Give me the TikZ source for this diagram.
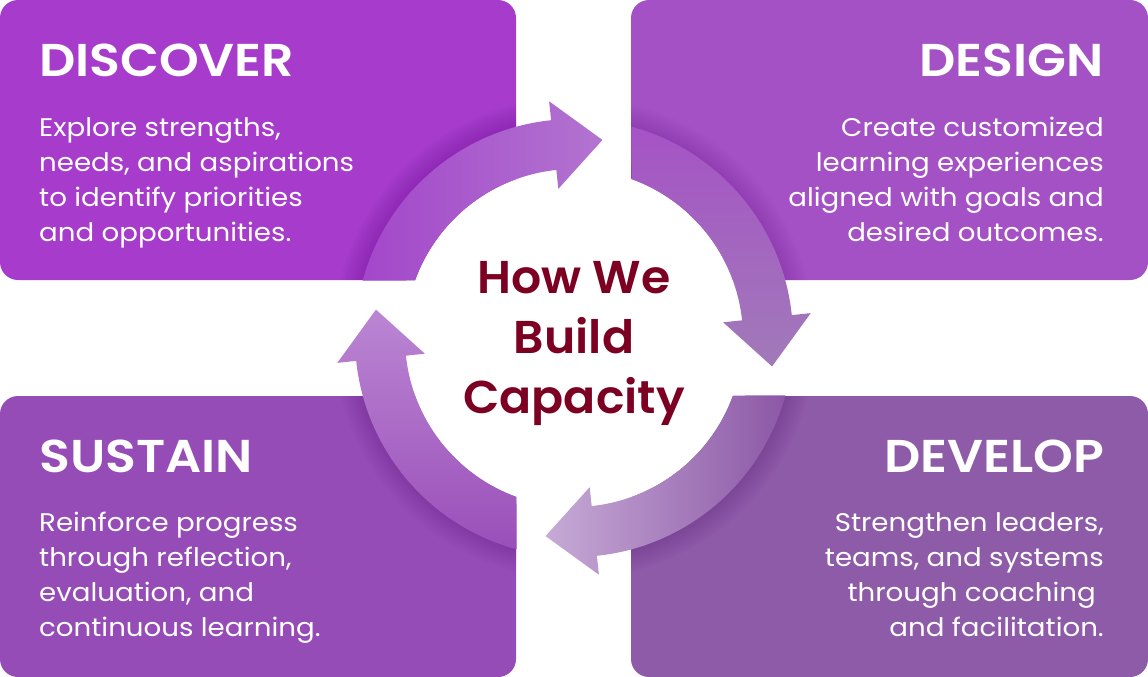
\documentclass[tikz,border=0pt]{standalone}
\usepackage{fontspec}
\setmainfont{Poppins}[BoldFont={Poppins SemiBold}]
\usetikzlibrary{calc}
\definecolor{cDisc}{HTML}{A63BCC}
\definecolor{cDesi}{HTML}{A551C6}
\definecolor{cSust}{HTML}{954CB7}
\definecolor{cDeve}{HTML}{8E5BA8}
\definecolor{aDiscT}{HTML}{A347CA}
\definecolor{aDiscH}{HTML}{B274D0}
\definecolor{aDesiT}{HTML}{A553C5}
\definecolor{aDesiH}{HTML}{A17AB9}
\definecolor{aDeveT}{HTML}{8C58A6}
\definecolor{aDeveH}{HTML}{C6AAD6}
\definecolor{aSustT}{HTML}{9A4FB9}
\definecolor{aSustH}{HTML}{BB86D3}
\definecolor{cHub}{HTML}{7C0022}
\definecolor{cShadow}{HTML}{4A0070}
\newcommand{\cyclearrow}[2]{%
  \shade[#2] ($(C)+(#1+74.8:219pt)$) arc[start angle=#1+74.8, end angle=#1+6, radius=219pt]
    -- ($(C)+(#1+6:238pt)$)
    -- ($(C)+(#1+6:194pt)+(#1-84:49pt)$)
    -- ($(C)+(#1+6:150pt)$)
    -- ($(C)+(#1+6:169pt)$) arc[start angle=#1+6, end angle=#1+70.1, radius=169pt]
    -- cycle;}
\newcommand{\boxshadow}[1]{%
  \begin{scope}
    \clip[rounded corners=18pt] #1;
    \foreach \i in {1,...,9} \fill[cShadow, fill opacity=0.022] (C) circle[radius=219pt+2.4pt*\i];
  \end{scope}}
\begin{document}
\begin{tikzpicture}[x=1pt,y=1pt,
  quad/.style={rounded corners=18pt, inner sep=0pt, outer sep=0pt, minimum width=516pt, minimum height=280pt},
  title/.style={text=white, font=\bfseries\fontsize{46}{56}\selectfont\addfontfeature{FakeStretch=1.1}, inner sep=0pt},
  body/.style={text=white, font=\fontsize{25.5}{35}\selectfont\addfontfeature{FakeStretch=1.085}, inner sep=0pt}]
\useasboundingbox (0,0) rectangle (1148,-677);
\coordinate (C) at (574,-338);
% boxes
\node[quad, fill=cDisc, anchor=north west] (discover) at (0,0) {};
\node[quad, fill=cDesi, anchor=north east, minimum width=517pt] (design) at (1148,0) {};
\node[quad, fill=cSust, anchor=south west, minimum height=281pt] (sustain) at (0,-677) {};
\node[quad, fill=cDeve, anchor=south east, minimum width=517pt, minimum height=281pt] (develop) at (1148,-677) {};
% shadows
\boxshadow{(0,0) rectangle (516,-280)}
\boxshadow{(631,0) rectangle (1148,-280)}
\boxshadow{(0,-396) rectangle (516,-677)}
\boxshadow{(631,-396) rectangle (1148,-677)}
% hub
\node[circle, fill=white, minimum size=338pt, inner sep=0pt] (hub) at (C) {};
% arrows
\cyclearrow{90}{left color=aDiscT, right color=aDiscH}
\cyclearrow{0}{top color=aDesiT, bottom color=aDesiH}
\cyclearrow{-90}{left color=aDeveH, right color=aDeveT}
\cyclearrow{180}{top color=aSustH, bottom color=aSustT}
% texts
\node[text=cHub, font=\bfseries\fontsize{46}{60}\selectfont\addfontfeature{FakeStretch=1.03}, align=center, inner sep=0pt] (hubtext) at (574,-344) {How We\\Build\\Capacity};
\node[title, anchor=base west] (t1) at (39,-76) {DISCOVER};
\node[title, anchor=base east] (t2) at (1104,-76) {DESIGN};
\node[title, anchor=base west] (t3) at (39,-472) {SUSTAIN};
\node[title, anchor=base east] (t4) at (1104,-472) {DEVELOP};
\node[body, anchor=base west, align=left] (b1) at (39,-241) {Explore strengths,\\needs, and aspirations\\to identify priorities\\and opportunities.};
\node[body, anchor=base east, align=right] (b2) at (1104,-241) {Create customized\\learning experiences\\aligned with goals and\\desired outcomes.};
\node[body, anchor=base west, align=left] (b3) at (39,-636) {Reinforce progress\\through reflection,\\evaluation, and\\continuous learning.};
\node[body, anchor=base east, align=right] (b4) at (1104,-636) {Strengthen leaders,\\teams, and systems\\through coaching\kern8pt\\and facilitation.};
\end{tikzpicture}
\end{document}
